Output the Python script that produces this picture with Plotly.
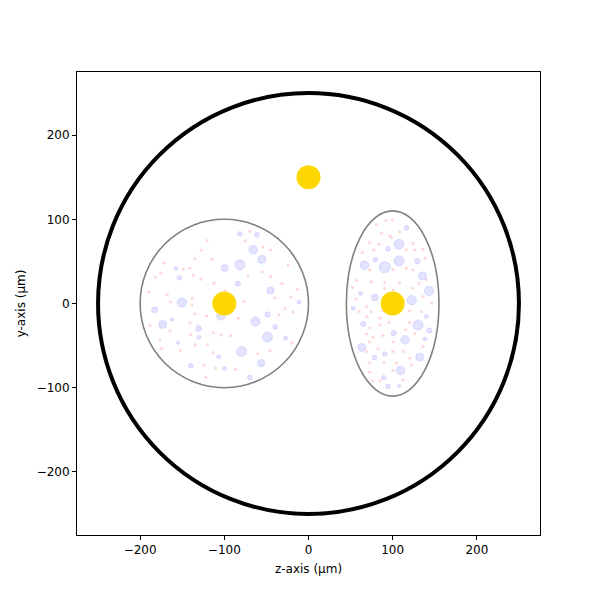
import plotly.graph_objects as go

# Boundaries (center_z, center_y, radius_z, radius_y)
boundary_names = ["outer", "left", "right"]
boundary_cz = [0, -100, 100]
boundary_cy = [0, 0, 0]
boundary_rz = [250, 100, 55]
boundary_ry = [250, 100, 110]

# Gold sources
gold_z = [0, -100, 100]
gold_y = [150, 0, 0]

# Blue particles (z, y, size px)
blue_z = [-81.5, -61.3, -65.7, -55.4, -81.5, -99.3, -157.5, -153.5, -83.9, -45.1, -150.4, -182.8, -11.1,
          -104.1, -173.3, -162.2, -48.7, -62.9, -130.6, -39.6, -130.2, -48.7, -155.1, -27.3, -79.5, -106.8,
          -56.2, -139.7, -99.7, -69.6,
          116.3, 107.6, 94.6, 79.5, 66.5, 90.6, 107.6, 129.4, 135.3, 143.2, 61.7, 78.7, 122.6, 53.0, 140.0,
          64.9, 130.2, 101.3, 143.6, 114.7, 138.5, 63.3, 90.6, 78.3, 132.1, 109.2, 89.4, 94.6, 107.6]
blue_y = [82.7, 81.5, 63.7, 52.6, 45.9, 42.3, 41.5, 30.5, 23.7, 15.4, 1.2, -7.5, 1.6,
          -14.6, -24.9, -19.0, -13.0, -21.4, -29.7, -27.7, -40.0, -40.0, -46.7, -41.2, -57.0, -63.3,
          -70.8, -74.0, -77.2, -87.8,
          89.8, 70.4, 64.9, 52.2, 45.5, 43.1, 50.6, 50.2, 32.8, 15.0, 12.3, 7.1, 4.0, -5.5, -15.4,
          -24.5, -25.7, -35.2, -32.0, -43.1, -42.3, -52.2, -60.1, -64.1, -63.7, -79.5, -88.2, -98.5, -98.1]
blue_s = [4.7, 4.7, 8.7, 8, 10, 6.7, 4, 4.7, 5.3, 7.3, 9.3, 6, 4, 8.7, 8, 3.3, 5.3, 9.3, 6, 4.7, 4, 10, 3.3,
          4, 10, 4, 7.3, 4.7, 4, 4.7,
          4.7, 10, 4.7, 4.7, 8.7, 11.3, 10, 5.3, 8, 9.3, 4, 6.7, 9.3, 4, 4, 5.3, 10, 5.3, 5.3, 8.7, 4, 8,
          4.7, 4.7, 8, 8.7, 4.7, 4.7, 3.3]

# Pink particles (z, y)
pink_z = [-120.3, -127.8, -135.0, -114.8, -171.8, -148.8, -140.9, -175.7, -182.0, -136.9, -127.8, -112.4,
          -189.6, -167.8, -138.1, -99.0, -76.4, -163.8, -138.5, -40.0, -21.0, -27.8, -18.3, -135.0, -121.1,
          -83.5, -188.4, -164.6, -140.9, -34.9, -13.1, -31.7, -45.2, -54.7, -72.1, -45.2, -53.9, -24.2,
          -139.7, -113.2, -103.7, -92.2, -176.5, -174.5, -152.0, -134.6, -119.9, -113.2, -123.9, -110.4,
          -86.7, -122.3, -60.2, -46.0, -19.9, -75.2, -69.7,
          91.7, 99.6, 80.6, 86.6, 96.5, 108.3, 72.7, 83.8, 98.8, 116.2, 124.1, 126.5, 136.0, 138.4, 64.0,
          77.5, 72.7, 100.4, 116.2, 124.1, 56.9, 74.7, 90.5, 108.3, 131.3, 140.0, 52.1, 90.5, 100.4, 124.1,
          136.0, 56.1, 68.8, 74.3, 88.5, 101.2, 120.2, 134.0, 146.3, 60.1, 69.6, 84.6, 95.7, 120.2, 72.7,
          84.6, 68.8, 76.7, 88.5, 100.4, 115.4, 126.1, 136.0, 72.7, 68.8, 82.6, 100.4, 112.3, 120.2, 72.7,
          89.7, 104.4, 122.2, 72.7, 100.4, 84.6, 112.3, 76.7]
pink_y = [74.8, 63.3, 53.1, 52.7, 47.9, 40.8, 42.0, 36.0, 31.3, 33.7, 28.9, 24.2,
          13.9, 10.7, 6.4, 15.1, 2.4, 2.0, -1.9, 6.4, 7.6, -6.3, -10.2, -12.6, -14.6,
          -17.4, -26.1, -32.4, -23.3, -13.4, 16.7, 23.8, 32.1, 37.6, 32.9, 63.7, 66.9, 45.5,
          -37.1, -34.8, -37.5, -37.9, -43.5, -53.4, -55.7, -49.0, -48.6, -58.5, -73.5, -76.7,
          -78.3, -87.8, -59.7, -56.1, -47.0, 74.4, 85.5,
          98.5, 99.3, 93.4, 83.5, 80.4, 85.1, 72.4, 70.5, 78.0, 63.7, 71.7, 63.7, 64.5, 53.9, 60.6,
          63.7, 40.0, 40.0, 42.0, 40.0, 27.3, 25.8, 25.0, 24.6, 24.2, 28.1, 19.1, 17.9, 16.3, 18.2,
          8.4, 5.2, -3.5, -9.8, -8.3, -9.8, -9.0, -9.8, 0.4, -9.4, -15.4, -17.4, -22.5, -22.5, -29.2,
          -25.3, -36.0, -39.9, -37.9, -45.4, -31.2, -36.0, -51.0, -45.4, -56.9, -53.8, -56.9, -56.9, -64.8, -70.8,
          -70.0, -70.8, -72.7, -81.8, -79.5, -91.7, -90.5, -91.7]

fig = go.Figure()

for i, name in enumerate(boundary_names):
    outer = name == "outer"
    fig.add_shape(type="circle", xref="x", yref="y",
                  x0=boundary_cz[i] - boundary_rz[i], x1=boundary_cz[i] + boundary_rz[i],
                  y0=boundary_cy[i] - boundary_ry[i], y1=boundary_cy[i] + boundary_ry[i],
                  line=dict(color="black" if outer else "gray", width=4 if outer else 1.6),
                  layer="above")

fig.add_trace(go.Scatter(x=pink_z, y=pink_y, mode="markers",
                         marker=dict(size=3, color="rgba(255,120,120,0.3)", line=dict(width=0)),
                         showlegend=False, hoverinfo="skip"))
fig.add_trace(go.Scatter(x=blue_z, y=blue_y, mode="markers",
                         marker=dict(size=blue_s, color="rgba(100,100,255,0.25)",
                                     line=dict(width=0.8, color="rgba(100,100,255,0.3)")),
                         showlegend=False, hoverinfo="skip"))
fig.add_trace(go.Scatter(x=gold_z, y=gold_y, mode="markers",
                         marker=dict(size=24, color="#FFD700", line=dict(width=0)),
                         showlegend=False))

axis_common = dict(range=[-275, 275], tickvals=[-200, -100, 0, 100, 200], automargin=False,
                   ticks="outside", ticklen=4, tickcolor="black", showgrid=False, zeroline=False,
                   showline=True, linecolor="black", linewidth=1, mirror=True,
                   tickfont=dict(family="DejaVu Sans", size=12, color="black"))
fig.update_xaxes(**axis_common, title=dict(text="z-axis (μm)", font=dict(family="DejaVu Sans", size=12), standoff=8))
fig.update_yaxes(**axis_common, title=dict(text="y-axis (μm)", font=dict(family="DejaVu Sans", size=12), standoff=8),
                 scaleanchor="x", scaleratio=1)

fig.update_layout(width=600, height=600, plot_bgcolor="white", paper_bgcolor="white",
                  margin=dict(l=69, r=68, t=64, b=73),
                  font=dict(family="DejaVu Sans", color="black"))

fig.write_html("out.html")
